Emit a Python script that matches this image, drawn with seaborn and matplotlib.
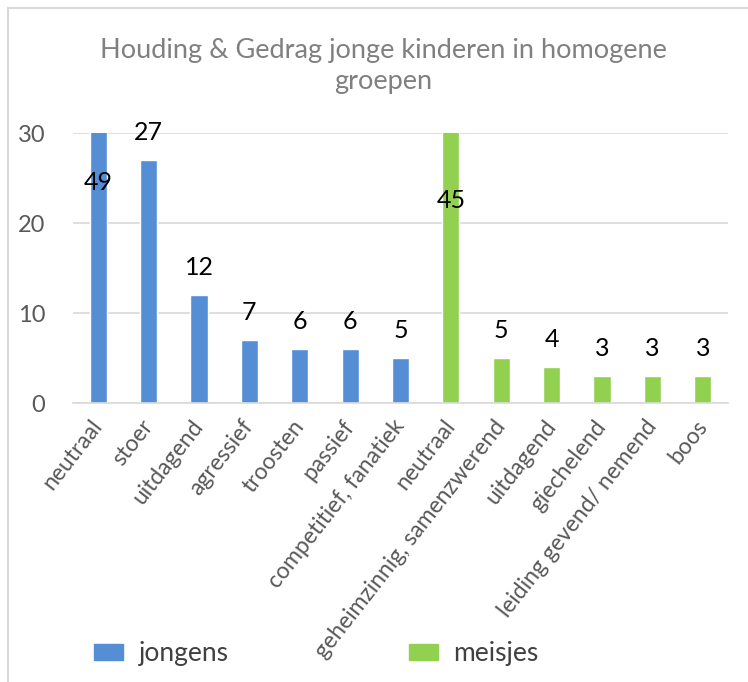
import matplotlib.pyplot as plt
import seaborn as sns
import pandas as pd
from matplotlib.patches import Rectangle

# data
categories = ["neutraal", "stoer", "uitdagend", "agressief", "troosten", "passief",
              "competitief, fanatiek", "neutraal", "geheimzinnig, samenzwerend",
              "uitdagend", "giechelend", "leiding gevend/ nemend", "boos"]
values = [49, 27, 12, 7, 6, 6, 5, 45, 5, 4, 3, 3, 3]
groups = ["jongens"] * 7 + ["meisjes"] * 6
yticks = [0, 10, 20, 30]

colors = {"jongens": "#558ED5", "meisjes": "#92D050"}

df = pd.DataFrame({"pos": [str(i) for i in range(len(categories))],
                   "label": categories, "value": values, "groep": groups})

sns.set_theme(style="white")
plt.rcParams["font.family"] = ["Lato", "DejaVu Sans"]

fig = plt.figure(figsize=(7.48, 6.82), dpi=100)
ax = fig.add_axes([73 / 748, 1 - 403 / 682, (728 - 73) / 748, (403 - 133) / 682])

sns.barplot(data=df, x="pos", y="value", hue="groep", palette=colors,
            dodge=False, width=0.34, ax=ax, legend=False, saturation=1)

ax.set_ylim(0, 30)
ax.set_xlim(-0.5, len(categories) - 0.5)
ax.set_yticks(yticks)
ax.set_yticklabels([str(t) for t in yticks], fontsize=17, color="#595959")
ax.set_xticks(range(len(categories)))
ax.set_xticklabels(categories, rotation=52, ha="right", va="center",
                   rotation_mode="anchor", fontsize=16.5, color="#595959")
ax.tick_params(axis="y", length=0, pad=20)
ax.tick_params(axis="x", length=0, pad=14)
ax.set_xlabel("")
ax.set_ylabel("")
ax.grid(axis="y", color="#D9D9D9", linewidth=1.2)
ax.set_axisbelow(True)
for s in ["top", "right", "left"]:
    ax.spines[s].set_visible(False)
ax.spines["bottom"].set_color("#D9D9D9")
ax.spines["bottom"].set_linewidth(1.2)

# data labels
for i, v in enumerate(values):
    if v > 30:
        ax.text(i, v / 2, str(v), ha="center", va="center", fontsize=18, color="black")
    else:
        ax.annotate(str(v), (i, v), xytext=(0, 19.5), textcoords="offset points",
                    ha="center", va="center", fontsize=18, color="black")

# title
fig.text(0.512, 1 - 66 / 682, "Houding & Gedrag jonge kinderen in homogene\ngroepen",
         ha="center", va="center", fontsize=19.5, color="#808080", linespacing=1.3)

# legend
handles = [Rectangle((0, 0), 1, 1, color=colors[g]) for g in ["jongens", "meisjes"]]
fig.legend(handles, ["jongens", "meisjes"], loc="center", bbox_to_anchor=(0.423, 1 - 654 / 682),
           ncol=2, frameon=False, fontsize=19, handlelength=1.1, handleheight=0.55,
           handletextpad=0.6, columnspacing=6.8, labelcolor="#404040")

# chart frame
fig.patches.append(Rectangle((8 / 748, -0.1), 1.2, 1 - 8 / 682 + 0.1, transform=fig.transFigure,
                             fill=False, edgecolor="#D9D9D9", linewidth=1.5))

fig.savefig("out.png", dpi=100)
